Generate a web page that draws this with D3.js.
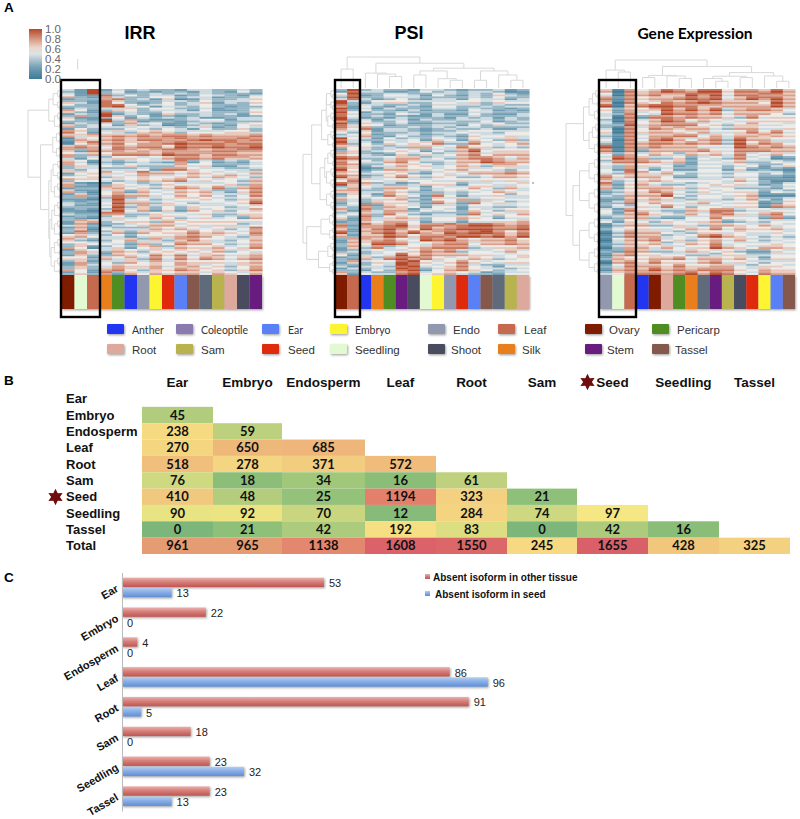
<!DOCTYPE html>
<html><head><meta charset="utf-8">
<script src="https://cdn.jsdelivr.net/npm/d3@7/dist/d3.min.js"></script>
<style>
html,body{margin:0;padding:0;background:#fff}
svg{display:block}
text{font-family:"Liberation Sans",Arial,sans-serif}
</style></head><body><div id="c"></div>
<script>
// ---------- Data: panel A (each digit is a cell value in ninths) ----------
const irrRowsA=["4292434332443343","4293433434343332","7327433553442335","3328633344353445","5338853453453335","2434463553342334","6328343354443336","3739635232343323","5329473223455244","2434374522432345","7344445443462354","7634645654444553","6676667677676667","1656767778777787","1686766778777877","6764767758778778","7376876788767788","5465777687777766","7343554567767776","6524345448343435","7534354447553334","3443334377544334","6657568665654546","3454547445656744","7665456567554546","6212543454444546","7227645457657467","6224636546563357","2625766546564447","3323834456654456","3234866454455458","4224847464544456","2323846353645447","3228844544554455","2323534664553436","3764455466555555","2723345664555534","2724333656545448","3823636655756547","5643535556766547","7434463747755446","5544536447664456","3623536736556457","2654654656546445","3742654654565556","5526574757576567","3624464746555556","2745655657645466","3636764757665457","2528364656646546"];
const irrRowsB=["3293523233243253","5228353442354324","2337834261243346","6428532353462436","3338945244353233","7523653444252235","2439243263343425","6223524343422344","3339362332344333","6345263412343256","2533354354253363","8525436763555664","7467878788787778","2767868877898878","1577857789888788","7875878869889889","6287767677778877","7376888798868877","4254665478878667","7413234327252324","3645463336462245","6354445288655443","2566457774765457","5563656556747653","3554347678465537","7323654365555637","2336756368748378","7315727457674268","3736877457575358","2214945345565367","4325977365344569","3335936353655345","2214957262756356","4337733655463366","3214645753464527","2673566375666644","4632456775646645","3615444767454357","2734727566867658","6754424667875436","6323574636864357","3655427358775347","7514625647667568","3763763565657354","2633765868467467","6637463848687478","2735375657666467","3634766746756357","7527853668756368","3637275767757657"];
const psiRowsA=["3934332443233423","5933443344343532","3933444333343533","9435554444554544","8344334344443433","9242433344343323","9524343333344333","8534332243343334","9342442433444343","9364342233344533","8673334343443333","6462443233455444","3562344234354455","9542534354354464","9442545674474566","6654346645755454","2543454344684555","7632354534674666","8744566344677656","7653676445668766","8733566534654775","8612665545644544","7635564345466676","8723575456445665","6764554455555555","8773423555344556","3654664254466465","7733654245454654","2642754374355535","6545563364645544","3436553375374534","3482654344355445","7383662454254455","3464764333374546","5383565444654355","3274664355355556","7386785778788767","7377886867888778","8277868678789757","6266875778887868","3776754878656675","2768874567746676","3747345677745556","2345445767444564","6334585766655545","2363788754565456","3745589545754555","3335498545743344","2434498346754434","7343378456542344"];
const psiRowsB=["2844223534344312","6823554253243643","4842353244254424","9324663355463655","7253243255334344","8353324233254232","8433254242253224","9423243332434243","7253353344335234","8455233344253644","7582443234334224","5353334344544355","4473253343265564","8433445265265373","8353656583385457","7563437754866343","3634565253795666","6543263645785777","9833477453788747","8544785334779877","7624475645763664","9523776456755435","6544653254577787","9634686365334776","5855465544646464","9664334666255445","4743775345575374","6644763334345765","3553865285244644","7434674255736455","2527664286285645","4373765255244334","6274773545365366","4573853244285657","6274676355765244","2365775244244667","8277896887899878","6268975978999889","9368979769899868","7377986887998979","2667865989767786","3659985478857787","2638456788834667","3434556878355475","5245496877766456","3274897865476345","2636498656865466","4244389456854255","3325389257865345","6254489567433255"];
const geneRowsA=["6175687688577686","5176777888577886","7275667878568886","7175676787666686","8167887777666686","5365786868467764","5274587767566664","4173776766547555","3174687565455555","4285677745457554","3174767665466555","5175665665557575","4274667746566765","4174786467486655","4176776767485764","8176766655587676","7173666675577766","6364653656574564","4876445345474523","3777656344564443","5465543244454335","4374343344353232","5487564455444442","7566643355455332","7455654444565222","8356544345455324","6356665454644434","3455764454555343","3466684444556222","3365653455456334","2474644564555236","3535574444555276","4275544657745544","5267543648755674","3466433447644373","4354454556345444","2466445546654654","2455556657565565","1476643455565554","1476634578654454","1566745456564454","1465634657544454","1466564558654665","2376445654543354","2675544443553344","2655667566564255","1675755567554444","2576657556643554","2676867677754655","3677767868754766"];
const geneRowsB=["7086798799688797","4087866979488777","8186778989479797","6086587898777597","9078998866777797","6276697979378875","4385498878477753","5082887877638466","4085798474546666","3396788856366445","4085876774377446","6086776574468684","3185778857477676","5085897578397744","3187887878396875","9087877744498787","8082777786488877","5275764767485475","5987336254385412","4888767255473354","4376452355345246","5285252255262321","4376475344355353","8677752244344221","6346765555474311","7267433456564235","7267776365533325","2366875365466254","4377795355467111","2276764344347425","3385755675466125","2446485355466187","5386433768834455","4378654757864785","2377322558555282","5265365467234355","1377336437765745","3566445768476674","0387754366454465","2387745489765343","0477856367475345","2376745768455565","0377475469765776","3287334765632265","1786655334664455","3766778477675366","0786866478465355","3487768667754665","1787978788865766","4588878979865877"];

const irrStrip=["Ovary","Seedling","Leaf","Silk","Pericarp","Anther","Endo","Embryo","Seed","Ear","Tassel","Coleoptile","Sam","Root","Shoot","Stem"];
const psiStrip=["Ovary","Leaf","Anther","Silk","Pericarp","Stem","Shoot","Seedling","Embryo","Endo","Seed","Ear","Tassel","Coleoptile","Sam","Root"];
const geneStrip=["Endo","Seedling","Leaf","Anther","Ovary","Root","Pericarp","Silk","Coleoptile","Stem","Sam","Shoot","Seed","Embryo","Ear","Tassel"];

const tissueNames=["Anther","Coleoptile","Ear","Embryo","Root","Sam","Seed","Seedling","Endo","Leaf","Ovary","Pericarp","Shoot","Silk","Stem","Tassel"];
const tissueColors=["#2436f0","#8a7ab0","#5a80f8","#fdf533","#dca99c","#b8b250","#e02a08","#e2f9d2","#9299ae","#c66a4f","#7f1c04","#4f8c22","#4a4c5e","#e97e1b","#681f7f","#84584e"];
const stripColeoptile="#5f6b7a";
const colorbarTicks=[0,0.2,0.4,0.6,0.8,1];

// Dendrogram merge heights: [height,left,right], 0 = leaf
const p=[.05,0,0], b3=[.1,0,p], b4=[.14,p,p], b5=[.2,b3,p], b6=[.24,b3,b3];
const irrColTree=[1,[.64,0,[.59,0,0]],[.73,[.49,0,[.4,0,0]],[.59,[.52,[.34,0,[.28,0,0]],[.25,0,0]],[.47,[.36,0,[.28,0,0]],[.4,[.3,0,0],[.36,0,0]]]]]];
const psiColTree=[1,[.61,0,0],[.8,[.48,0,[.45,0,[.37,0,0]]],[.64,[.55,[.42,0,0],[.3,0,[.25,0,0]]],[.55,[.25,0,0],[.42,0,[.25,0,0]]]]]];
const geneColTree=[1,[.64,0,[.57,0,0]],[.77,[.45,[.375,0,0],[.43,0,[.34,0,0]]],[.55,[.42,[.34,0,[.24,0,0]],[.37,0,0]],[.43,0,[.24,0,0]]]]];
const irrRowTree=[1,[.37,b6,b5],[.62,[.25,b4,b4],[.37,[.3,b6,b5],[.34,[.28,b5,b5],[.3,b5,b5]]]]];
const psiRowTree=[1,[.72,[.4,[.25,b6,b5],b5],[.45,[.3,b5,b6],b6]],[.88,[.42,b4,b4],[.5,b5,b4]]];
const geneRowTree=[1,[.47,[.3,b5,b4],[.3,b5,b4]],[.79,[.59,[.3,b4,b4],[.3,b4,b4]],[.59,[.3,b4,b4],[.3,b4,b4]]]];

// ---------- Data: panel B ----------
const tableCols=["Ear","Embryo","Endosperm","Leaf","Root","Sam","Seed","Seedling","Tassel"];
const tableRows=["Ear","Embryo","Endosperm","Leaf","Root","Sam","Seed","Seedling","Tassel","Total"];
const embryoRow=[45];
const endospermRow=[238,59];
const leafRow=[270,650,685];
const rootRow=[518,278,371,572];
const samRow=[76,18,34,16,61];
const seedRow=[410,48,25,1194,323,21];
const seedlingRow=[90,92,70,12,284,74,97];
const tasselRow=[0,21,42,192,83,0,42,16];
const totalRow=[961,965,1138,1608,1550,245,1655,428,325];

// ---------- Data: panel C ----------
const barCats=["Ear","Embryo","Endosperm","Leaf","Root","Sam","Seedling","Tassel"];
const otherTissue=[53,22,4,86,91,18,23,23];
const inSeed=[13,0,0,96,5,0,32,13];
const barLegend=["Absent isoform in other tissue","Absent isoform in seed"];

// ---------- Drawing ----------
const W=800,H=819;
const svg=d3.select("#c").append("svg").attr("width",W).attr("height",H);
const defs=svg.append("defs");
const heatColor=d3.scaleLinear().domain([0,2/9,3/9,4/9,5/9,6/9,7/9,8/9,1])
  .range(["#3f7b97","#6f9db2","#97b6c5","#cddae0","#ecebe8","#e8c9bd","#da9f8a","#c8755b","#b5482a"]);
const tissue=d3.scaleOrdinal().domain(tissueNames).range(tissueColors);
defs.append("filter").attr("id","blur").attr("x","-5%").attr("y","-5%").attr("width","110%").attr("height","110%")
  .append("feGaussianBlur").attr("stdDeviation",.35);
const sh=defs.append("filter").attr("id","shadow").attr("x","-20%").attr("y","-20%").attr("width","140%").attr("height","160%");
sh.append("feDropShadow").attr("dx",1).attr("dy",1.2).attr("stdDeviation",.9).attr("flood-color","#555").attr("flood-opacity",.55);

function panelLabel(t,y){svg.append("text").attr("x",4).attr("y",y).attr("font-size",13.5).attr("font-weight","bold").text(t);}
panelLabel("A",12);panelLabel("B",385);panelLabel("C",582);

function dendro(g,tree,leafPos,hPos,horizontal){
  const root=d3.hierarchy(tree,d=>Array.isArray(d)?d.slice(1):null);
  root.leaves().forEach((l,i)=>{l.pos=leafPos(i);});
  root.eachAfter(n=>{
    n.h=Array.isArray(n.data)?n.data[0]:0;
    if(n.children)n.pos=(n.children[0].pos+n.children[1].pos)/2;
  });
  const path=d3.path();
  root.each(n=>{
    if(!n.children)return;
    const [a,b]=n.children,v=hPos(n.h),va=hPos(a.h),vb=hPos(b.h);
    if(horizontal){path.moveTo(va,a.pos);path.lineTo(v,a.pos);path.lineTo(v,b.pos);path.lineTo(vb,b.pos);}
    else{path.moveTo(a.pos,va);path.lineTo(a.pos,v);path.lineTo(b.pos,v);path.lineTo(b.pos,vb);}
  });
  g.append("path").attr("d",path.toString()).attr("fill","none").attr("stroke","#d8d8d8").attr("stroke-width",1);
}

function heatmap(o){
  const rows=d3.merge(d3.zip(o.rowsA,o.rowsB));
  const n=rows[0].length;
  const x=d3.scaleBand().domain(d3.range(n)).range([o.x0,o.x1]);
  const y=d3.scaleBand().domain(d3.range(rows.length)).range([o.y0,o.y1]);
  const g=svg.append("g");
  g.append("text").attr("x",o.titleX).attr("y",o.titleY).attr("text-anchor","middle").attr("font-size",o.titleSize)
   .attr("font-weight","bold").style("font-family",o.titleFont).text(o.title);
  dendro(g,o.colTree,i=>x(i)+x.bandwidth()/2,d3.scaleLinear().domain([0,1]).range([o.y0-1,o.colTop]),false);
  dendro(g,o.rowTree,i=>y(i*2)+y.bandwidth(),d3.scaleLinear().domain([0,1]).range([o.x0-1,o.rowLeft]),true);
  const cells=[];
  rows.forEach((r,i)=>r.split("").forEach((c,j)=>cells.push({i,j,v:+c/9})));
  g.append("g").attr("filter","url(#blur)").selectAll("rect").data(cells).join("rect")
   .attr("x",d=>x(d.j)).attr("y",d=>y(d.i)).attr("width",x.bandwidth()+.5).attr("height",y.bandwidth()+.3)
   .attr("fill",d=>heatColor(d.v));
  g.append("g").attr("filter","url(#shadow)").selectAll("rect").data(o.strip).join("rect")
   .attr("x",(d,i)=>x(i)).attr("y",o.y1).attr("width",x.bandwidth()).attr("height",34)
   .attr("fill",d=>d==="Coleoptile"?stripColeoptile:tissue(d));
  g.append("rect").attr("x",o.box[0]).attr("y",80).attr("width",o.box[1]-o.box[0]).attr("height",237)
   .attr("fill","none").attr("stroke","#000").attr("stroke-width",2.4);
}
heatmap({title:"IRR",titleX:140,titleY:39,titleSize:18,titleFont:"'Liberation Sans'",rowsA:irrRowsA,rowsB:irrRowsB,strip:irrStrip,x0:62,x1:262,y0:89,y1:275,colTop:59,rowLeft:28,colTree:irrColTree,rowTree:irrRowTree,box:[61,100]});
heatmap({title:"PSI",titleX:409,titleY:39,titleSize:18,titleFont:"'Liberation Sans'",rowsA:psiRowsA,rowsB:psiRowsB,strip:psiStrip,x0:335,x1:529,y0:89,y1:275,colTop:57,rowLeft:303,colTree:psiColTree,rowTree:psiRowTree,box:[335,360]});
heatmap({title:"Gene Expression",titleX:695,titleY:39,titleSize:15.5,titleFont:"Lato",rowsA:geneRowsA,rowsB:geneRowsB,strip:geneStrip,x0:600,x1:795,y0:89,y1:275,colTop:60,rowLeft:566,colTree:geneColTree,rowTree:geneRowTree,box:[599,636]});

svg.append("circle").attr("cx",533).attr("cy",183).attr("r",1).attr("fill","#aaa");

// colour bar
const cbY=d3.scaleLinear().domain([0,1]).range([79,29]);
const cbGrad=defs.append("linearGradient").attr("id","cb").attr("x1",0).attr("x2",0).attr("y1",1).attr("y2",0);
d3.range(0,1.01,.125).forEach(t=>cbGrad.append("stop").attr("offset",t).attr("stop-color",heatColor(t)));
svg.append("rect").attr("x",29).attr("y",29).attr("width",13).attr("height",50).attr("fill","url(#cb)");
const cbAxis=svg.append("g").attr("transform","translate(42,0)").call(d3.axisRight(cbY).tickValues(colorbarTicks).tickSize(0).tickPadding(3).tickFormat(d3.format(".1f")));
cbAxis.select(".domain").remove();
cbAxis.selectAll("text").attr("font-size",11.5).attr("fill","#666").style("font-family","'Liberation Sans'");

// tissue legend
const legendCols=[[107,132],[176,201],[262,288],[330,355],[428,453],[498,524],[585,609],[652,677]];
const legendLato=["Anther","Coleoptile","Ear","Embryo"];
tissueNames.forEach((t,i)=>{
  const col=i<8?i%4:4+i%4;
  const rowIdx=(i<4||(i>=8&&i<12))?0:1;
  const [sx,tx]=legendCols[col];
  const y=rowIdx?344:324;
  const g=svg.append("g");
  g.append("rect").attr("x",sx).attr("y",y).attr("width",17).attr("height",10).attr("rx",1).attr("fill",tissue(t)).attr("filter","url(#shadow)");
  g.append("text").attr("x",tx-(rowIdx&&i>=8?2:0)).attr("y",y+10).attr("font-size",legendLato.includes(t)?10.5:11.5).attr("fill","#333")
   .style("font-family",legendLato.includes(t)?"Lato":"'Liberation Sans'").text(t);
});

// panel B
const tableScale=d3.scaleOrdinal().domain(tableCols).range([142,213,282,365,436,507,577,648,719]);
const tableEnd=d3.scaleOrdinal().domain(tableCols).range([213,282,365,436,507,577,648,719,790]);
const rowY=d3.scaleBand().domain(tableRows).range([390.5,554]);
const tableColor=d3.scaleLinear()
  .domain([0,16,21,45,59,76,97,238,278,518,685,961,1194,1655])
  .range(["#7db67a","#8abd78","#8fc07a","#b0cc7c","#bdd07e","#cfd980","#f5e884","#f6da82","#f4d581","#efbf7b","#eeb67a","#e59c73","#e2806c","#d95f68"]);
const tableData=[[],embryoRow,endospermRow,leafRow,rootRow,samRow,seedRow,seedlingRow,tasselRow,totalRow];
const cellsB=[];
tableData.forEach((r,i)=>r.forEach((v,j)=>cellsB.push({row:tableRows[i],col:tableCols[j],v})));
const tb=svg.append("g");
tb.selectAll("rect").data(cellsB).join("rect")
  .attr("x",d=>tableScale(d.col)).attr("y",d=>rowY(d.row)).attr("width",d=>tableEnd(d.col)-tableScale(d.col)).attr("height",rowY.bandwidth())
  .attr("fill",d=>tableColor(d.v));
tb.selectAll("text.v").data(cellsB).join("text").attr("class","v")
  .attr("x",d=>(tableScale(d.col)+tableEnd(d.col))/2).attr("y",d=>rowY(d.row)+rowY.bandwidth()/2+4.5)
  .attr("text-anchor","middle").attr("font-size",13).attr("font-weight","bold").style("font-family","Lato").attr("fill","#111").text(d=>d.v);
tb.selectAll("text.h").data(tableCols).join("text").attr("class","h")
  .attr("x",d=>(tableScale(d)+tableEnd(d))/2+(d==="Seed"?0:0)).attr("y",387).attr("text-anchor","middle")
  .attr("font-size",13.5).attr("font-weight","bold").attr("fill","#111").text(d=>d);
tb.selectAll("text.r").data(tableRows).join("text").attr("class","r")
  .attr("x",66).attr("y",d=>rowY(d)+rowY.bandwidth()/2+4.5)
  .attr("font-size",13).attr("font-weight","bold").attr("fill","#111").text(d=>d);
const starLine=d3.lineRadial().curve(d3.curveLinearClosed).angle(d=>d[0]).radius(d=>d[1]);
const starPts=d3.range(12).map(i=>[i*Math.PI/6,i%2?4.4:8.2]);
[[55.5,497],[587.5,382]].forEach(([a,b])=>svg.append("path").attr("d",starLine(starPts)).attr("transform",`translate(${a},${b})`).attr("fill","#6d0d0d"));

// panel C
const bx=d3.scaleLinear().domain([0,100]).range([122,503]);
const by=d3.scaleBand().domain(barCats).range([572.5,811]);
function grad(id,a,b,c){const g=defs.append("linearGradient").attr("id",id).attr("x1",0).attr("x2",0).attr("y1",0).attr("y2",1);
  g.append("stop").attr("offset",0).attr("stop-color",a);g.append("stop").attr("offset",.45).attr("stop-color",b);g.append("stop").attr("offset",1).attr("stop-color",c);}
grad("redBar","#eab0ac","#d67f7a","#bf5551");
grad("blueBar","#b3cdf0","#88aee6","#5f8ed6");
const barH=9.3;
const cg=svg.append("g");
[[otherTissue,"redBar",-10.2],[inSeed,"blueBar",0]].forEach(([vals,fill,off])=>{
  const s=cg.append("g");
  s.append("g").attr("filter","url(#shadow)").selectAll("rect").data(vals).join("rect")
   .attr("x",bx(0)).attr("y",(d,i)=>by(barCats[i])+by.bandwidth()/2+off+.5).attr("width",d=>bx(d)-bx(0)).attr("height",d=>d?barH:0).attr("fill",`url(#${fill})`);
  s.selectAll("text").data(vals).join("text")
   .attr("x",d=>bx(d)+5).attr("y",(d,i)=>by(barCats[i])+by.bandwidth()/2+off+10).attr("font-size",11).attr("fill","#222").text(d=>d);
});
const ax=svg.append("g").attr("transform","translate(122,0)").call(d3.axisLeft(by).tickSize(0).tickPadding(3));
ax.select(".domain").attr("stroke","#bbb").attr("stroke-width",1);
ax.selectAll("text").attr("font-size",11).attr("font-weight","bold").attr("fill","#111").style("font-family","'Liberation Sans'")
  .attr("transform","rotate(-30,-3,3)");
// bar legend
[["redBar",574,425,433,581],["blueBar",591,425,435,598]].forEach(([f,y,sx,tx,ty],i)=>{
  svg.append("rect").attr("x",sx).attr("y",y).attr("width",5).attr("height",5).attr("fill",`url(#${f})`);
  svg.append("text").attr("x",tx).attr("y",ty).attr("font-size",10).attr("font-weight","bold").attr("fill","#111").text(barLegend[i]);
});
</script></body></html>
